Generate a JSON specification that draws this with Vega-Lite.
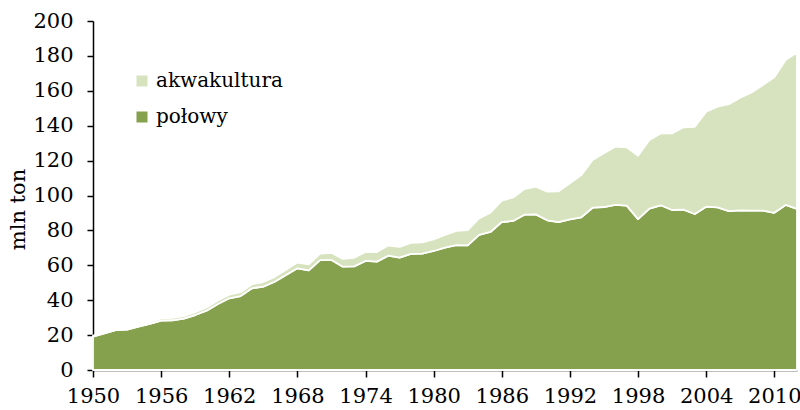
{
  "$schema": "https://vega.github.io/schema/vega-lite/v6.json",
  "autosize": "none",
  "width": 704,
  "height": 349,
  "padding": {"left": 93, "top": 21, "right": 3, "bottom": 40},
  "background": "white",
  "config": {
    "font": "DejaVu Serif",
    "view": {"stroke": null},
    "axis": {"grid": false, "domainColor": "black", "tickColor": "black", "labelColor": "black", "titleColor": "black", "labelFont": "DejaVu Serif", "titleFont": "DejaVu Serif", "labelFontSize": 21, "titleFontSize": 21, "titleFontWeight": "normal", "domainWidth": 1.5, "tickWidth": 1.5, "zindex": 1},
    "legend": {"labelFont": "DejaVu Serif"}
  },
  "data": {"values": [
    {"year":1950,"type":"połowy","value":19.1},{"year":1950,"type":"akwakultura","value":0.6},
    {"year":1951,"type":"połowy","value":21.0},{"year":1951,"type":"akwakultura","value":0.7},
    {"year":1952,"type":"połowy","value":22.9},{"year":1952,"type":"akwakultura","value":0.8},
    {"year":1953,"type":"połowy","value":23.1},{"year":1953,"type":"akwakultura","value":0.9},
    {"year":1954,"type":"połowy","value":24.8},{"year":1954,"type":"akwakultura","value":1.0},
    {"year":1955,"type":"połowy","value":26.4},{"year":1955,"type":"akwakultura","value":1.1},
    {"year":1956,"type":"połowy","value":28.3},{"year":1956,"type":"akwakultura","value":1.3},
    {"year":1957,"type":"połowy","value":28.5},{"year":1957,"type":"akwakultura","value":1.4},
    {"year":1958,"type":"połowy","value":29.4},{"year":1958,"type":"akwakultura","value":1.5},
    {"year":1959,"type":"połowy","value":31.5},{"year":1959,"type":"akwakultura","value":1.6},
    {"year":1960,"type":"połowy","value":34.0},{"year":1960,"type":"akwakultura","value":1.8},
    {"year":1961,"type":"połowy","value":37.8},{"year":1961,"type":"akwakultura","value":2.0},
    {"year":1962,"type":"połowy","value":41.1},{"year":1962,"type":"akwakultura","value":2.1},
    {"year":1963,"type":"połowy","value":42.4},{"year":1963,"type":"akwakultura","value":2.2},
    {"year":1964,"type":"połowy","value":46.8},{"year":1964,"type":"akwakultura","value":2.4},
    {"year":1965,"type":"połowy","value":47.8},{"year":1965,"type":"akwakultura","value":2.6},
    {"year":1966,"type":"połowy","value":50.6},{"year":1966,"type":"akwakultura","value":2.8},
    {"year":1967,"type":"połowy","value":54.4},{"year":1967,"type":"akwakultura","value":3.1},
    {"year":1968,"type":"połowy","value":58.3},{"year":1968,"type":"akwakultura","value":3.3},
    {"year":1969,"type":"połowy","value":57.1},{"year":1969,"type":"akwakultura","value":3.5},
    {"year":1970,"type":"połowy","value":63.0},{"year":1970,"type":"akwakultura","value":3.7},
    {"year":1971,"type":"połowy","value":63.0},{"year":1971,"type":"akwakultura","value":4.2},
    {"year":1972,"type":"połowy","value":59.2},{"year":1972,"type":"akwakultura","value":4.5},
    {"year":1973,"type":"połowy","value":59.4},{"year":1973,"type":"akwakultura","value":4.9},
    {"year":1974,"type":"połowy","value":62.5},{"year":1974,"type":"akwakultura","value":5.2},
    {"year":1975,"type":"połowy","value":62.1},{"year":1975,"type":"akwakultura","value":5.5},
    {"year":1976,"type":"połowy","value":65.5},{"year":1976,"type":"akwakultura","value":5.8},
    {"year":1977,"type":"połowy","value":64.4},{"year":1977,"type":"akwakultura","value":6.1},
    {"year":1978,"type":"połowy","value":66.5},{"year":1978,"type":"akwakultura","value":6.3},
    {"year":1979,"type":"połowy","value":66.7},{"year":1979,"type":"akwakultura","value":6.5},
    {"year":1980,"type":"połowy","value":68.2},{"year":1980,"type":"akwakultura","value":6.6},
    {"year":1981,"type":"połowy","value":70.1},{"year":1981,"type":"akwakultura","value":7.3},
    {"year":1982,"type":"połowy","value":71.6},{"year":1982,"type":"akwakultura","value":8.1},
    {"year":1983,"type":"połowy","value":71.4},{"year":1983,"type":"akwakultura","value":8.8},
    {"year":1984,"type":"połowy","value":77.4},{"year":1984,"type":"akwakultura","value":9.5},
    {"year":1985,"type":"połowy","value":79.1},{"year":1985,"type":"akwakultura","value":11.1},
    {"year":1986,"type":"połowy","value":84.8},{"year":1986,"type":"akwakultura","value":12.2},
    {"year":1987,"type":"połowy","value":85.4},{"year":1987,"type":"akwakultura","value":13.5},
    {"year":1988,"type":"połowy","value":89.0},{"year":1988,"type":"akwakultura","value":14.7},
    {"year":1989,"type":"połowy","value":89.2},{"year":1989,"type":"akwakultura","value":15.9},
    {"year":1990,"type":"połowy","value":85.8},{"year":1990,"type":"akwakultura","value":16.4},
    {"year":1991,"type":"połowy","value":84.8},{"year":1991,"type":"akwakultura","value":17.6},
    {"year":1992,"type":"połowy","value":86.3},{"year":1992,"type":"akwakultura","value":20.7},
    {"year":1993,"type":"połowy","value":87.5},{"year":1993,"type":"akwakultura","value":24.2},
    {"year":1994,"type":"połowy","value":93.0},{"year":1994,"type":"akwakultura","value":27.3},
    {"year":1995,"type":"połowy","value":93.4},{"year":1995,"type":"akwakultura","value":30.8},
    {"year":1996,"type":"połowy","value":94.6},{"year":1996,"type":"akwakultura","value":33.4},
    {"year":1997,"type":"połowy","value":94.2},{"year":1997,"type":"akwakultura","value":33.4},
    {"year":1998,"type":"połowy","value":86.5},{"year":1998,"type":"akwakultura","value":36.3},
    {"year":1999,"type":"połowy","value":92.5},{"year":1999,"type":"akwakultura","value":39.3},
    {"year":2000,"type":"połowy","value":94.4},{"year":2000,"type":"akwakultura","value":41.2},
    {"year":2001,"type":"połowy","value":91.7},{"year":2001,"type":"akwakultura","value":43.9},
    {"year":2002,"type":"połowy","value":91.9},{"year":2002,"type":"akwakultura","value":47.2},
    {"year":2003,"type":"połowy","value":89.4},{"year":2003,"type":"akwakultura","value":50.0},
    {"year":2004,"type":"połowy","value":93.6},{"year":2004,"type":"akwakultura","value":54.4},
    {"year":2005,"type":"połowy","value":93.2},{"year":2005,"type":"akwakultura","value":57.7},
    {"year":2006,"type":"połowy","value":91.1},{"year":2006,"type":"akwakultura","value":61.2},
    {"year":2007,"type":"połowy","value":91.5},{"year":2007,"type":"akwakultura","value":64.6},
    {"year":2008,"type":"połowy","value":91.3},{"year":2008,"type":"akwakultura","value":67.8},
    {"year":2009,"type":"połowy","value":91.3},{"year":2009,"type":"akwakultura","value":72.0},
    {"year":2010,"type":"połowy","value":90.1},{"year":2010,"type":"akwakultura","value":77.6},
    {"year":2011,"type":"połowy","value":94.6},{"year":2011,"type":"akwakultura","value":83.1},
    {"year":2012,"type":"połowy","value":92.3},{"year":2012,"type":"akwakultura","value":89.7}
  ]},
  "mark": {"type": "area", "stroke": "white", "strokeWidth": 1.8, "strokeJoin": "round"},
  "encoding": {
    "x": {"field": "year", "type": "quantitative",
      "scale": {"domain": [1950, 2012], "nice": false, "zero": false},
      "axis": {"values": [1950,1956,1962,1968,1974,1980,1986,1992,1998,2004,2010], "format": "d", "title": null, "tickSize": 7, "labelPadding": 8, "labelFlush": false, "labelOverlap": false}},
    "y": {"field": "value", "type": "quantitative", "stack": "zero",
      "scale": {"domain": [0, 200], "nice": false},
      "axis": {"values": [0,20,40,60,80,100,120,140,160,180,200], "title": "mln ton", "tickSize": 6, "labelPadding": 14, "titleX": -75, "titleY": 188, "titleAngle": -90, "titleBaseline": "middle", "titleAlign": "center"}},
    "color": {"field": "type", "type": "nominal",
      "scale": {"domain": ["akwakultura", "połowy"], "range": ["#D7E3BE", "#86A14E"]},
      "legend": {"title": null, "orient": "none", "legendX": 39, "legendY": 50, "symbolType": "square", "symbolSize": 121, "symbolStrokeWidth": 0, "labelFontSize": 20, "labelFont": "DejaVu Serif", "labelColor": "black", "rowPadding": 16, "labelOffset": 4, "padding": 0}}
  }
}
